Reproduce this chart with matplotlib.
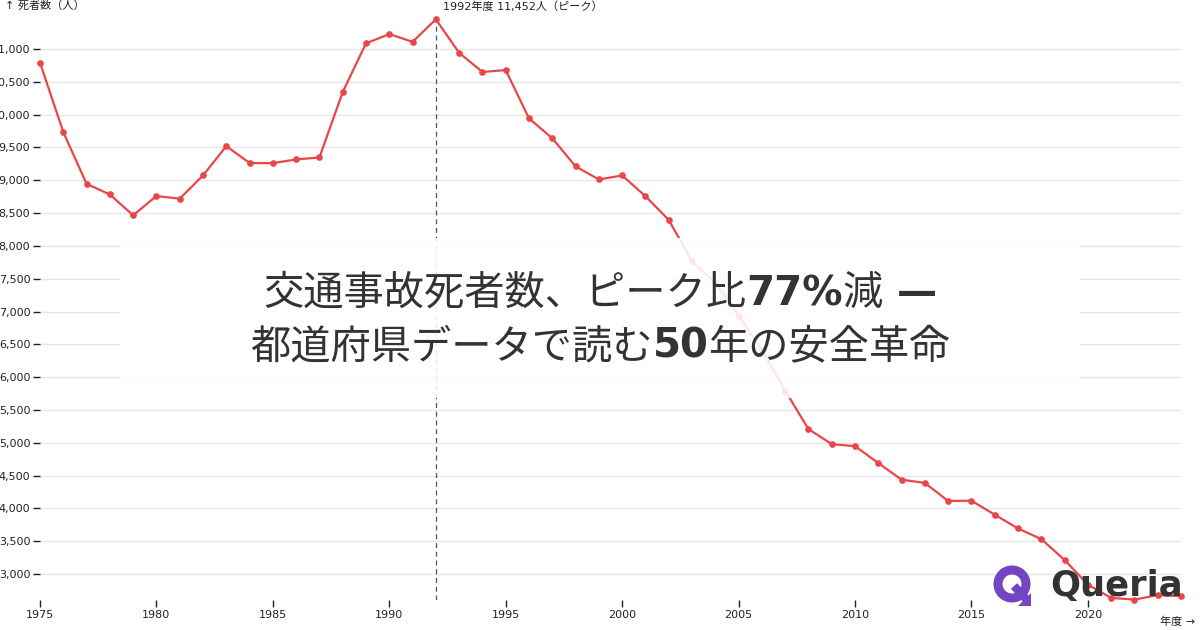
import matplotlib
matplotlib.use('Agg')
import matplotlib.pyplot as plt
from matplotlib.patches import Rectangle, Circle, Polygon
from matplotlib.ticker import FuncFormatter

years = list(range(1975, 2025))
deaths = [10792, 9734, 8945, 8783, 8466, 8760, 8719, 9073, 9520, 9262,
          9261, 9317, 9347, 10344, 11086, 11227, 11109, 11452, 10942, 10649,
          10679, 9942, 9640, 9211, 9012, 9073, 8757, 8396, 7768, 7436,
          6937, 6415, 5796, 5209, 4979, 4948, 4691, 4438, 4388, 4113,
          4117, 3904, 3694, 3532, 3215, 2839, 2636, 2610, 2678, 2663]
peak_year = 1992
peak_value = 11452
# title pieces: (text, bold latin?)
title_line1 = [('交通事故死者数、ピーク比', False), ('77%', True), ('減', False), (' —', True)]
title_line2 = [('都道府県データで読む', False), ('50', True), ('年の安全革命', False)]

jp = ['DejaVu Sans', 'Noto Sans CJK JP']
red = '#e8474a'
W, H = 1200, 630

fig = plt.figure(figsize=(12, 6.3), dpi=100)
ax = fig.add_axes([40 / W, 30 / H, 1141 / W, 585 / H])

ax.plot(years, deaths, color=red, lw=1.6, marker='o', ms=3.8, zorder=3, clip_on=False)
ax.set_xlim(1975, 2024)
ax.set_ylim(2604, 11518)
ax.set_yticks(range(3000, 11001, 500))
ax.yaxis.set_major_formatter(FuncFormatter(lambda v, p: f'{int(v):,}'))
ax.set_xticks(range(1975, 2021, 5))
ax.grid(axis='y', color='#e6e6e6', lw=1)
ax.set_axisbelow(True)
for s in ax.spines.values():
    s.set_visible(False)
ax.tick_params(axis='both', labelsize=8, length=5, width=1, color='#222222', labelcolor='#222222', pad=2)

# peak marker
ax.vlines(peak_year, 2604, peak_value, colors='#555555', linestyles=(0, (4, 3)), lw=0.9, zorder=2)
fig.text(443 / W, 1 - 7 / H, f'{peak_year}年度 {peak_value:,}人（ピーク）', family=jp,
         fontsize=8, color='#222222', ha='left', va='center')

fig.text(5 / W, 1 - 6 / H, '↑ 死者数（人）', family=jp, fontsize=8, color='#222222', ha='left', va='center')
fig.text(1195 / W, 1 - 622 / H, '年度 →', family=jp, fontsize=8, color='#222222', ha='right', va='center')

# title overlay
fig.patches.append(Rectangle((120 / W, 1 - 398 / H), 960 / W, 160 / H, transform=fig.transFigure,
                             facecolor='white', alpha=0.87, edgecolor='none', zorder=5))

renderer = fig.canvas.get_renderer()


def centered_line(pieces, baseline_px, size):
    texts = []
    for s, bold in pieces:
        if bold:
            t = fig.text(0, 1 - baseline_px / H, s, family='DejaVu Sans', weight='bold', fontsize=size,
                         color='#333333', ha='left', va='baseline', zorder=6)
        else:
            t = fig.text(0, 1 - baseline_px / H, s, family=['Noto Sans CJK JP', 'DejaVu Sans'], fontsize=size,
                         color='#333333', ha='left', va='baseline', zorder=6)
        texts.append(t)
    widths = [t.get_window_extent(renderer).width for t in texts]
    x = 600 - sum(widths) / 2
    for t, w in zip(texts, widths):
        t.set_x(x / W)
        x += w


centered_line(title_line1, 305, 29)
centered_line(title_line2, 358, 29)

# logo
lax = fig.add_axes([990 / W, 1 - 610 / H, 50 / W, 50 / H])
lax.set_xlim(0, 50)
lax.set_ylim(0, 50)
lax.axis('off')
purple = '#7445c2'
lax.add_patch(Circle((22, 26), 14, facecolor='none', edgecolor=purple, lw=6.5))
lax.plot([24, 36], [24, 11], color=purple, lw=6, solid_capstyle='butt')
lax.add_patch(Polygon([[41, 4], [41, 17], [28, 4]], closed=True, facecolor=purple, edgecolor='none'))
fig.text(1183 / W, 1 - 586 / H, 'Queria', fontsize=25.5, weight='bold', color='#333333',
         ha='right', va='center', zorder=7)

fig.savefig('out.png', dpi=100)
